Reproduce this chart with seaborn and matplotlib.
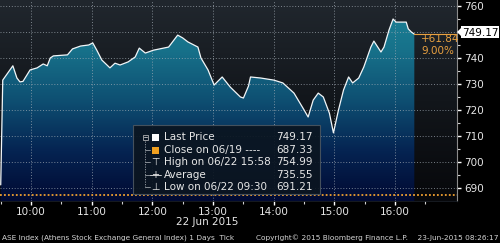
import numpy as np
import pandas as pd
import matplotlib
matplotlib.use("Agg")
import matplotlib.pyplot as plt
import seaborn as sns
from matplotlib.colors import LinearSegmentedColormap
from matplotlib.patches import Rectangle, Polygon
from matplotlib.lines import Line2D

# ---------------- data ----------------
times = ["09:30", "09:32", "09:42", "09:46", "09:49", "09:52", "09:56", "09:59",
         "10:06", "10:12", "10:16", "10:19", "10:22", "10:36", "10:41", "10:49",
         "10:57", "11:01", "11:05", "11:10", "11:18", "11:23", "11:28", "11:36",
         "11:43", "11:47", "11:53", "12:01", "12:11", "12:16", "12:25", "12:30",
         "12:35", "12:45", "12:48", "12:55", "13:01", "13:09", "13:17", "13:27",
         "13:30", "13:35", "13:37", "13:47", "14:00", "14:09", "14:20", "14:30",
         "14:34", "14:39", "14:44", "14:49", "14:55", "14:59", "15:04", "15:09",
         "15:14", "15:18", "15:24", "15:29", "15:36", "15:39", "15:46", "15:49",
         "15:54", "15:58", "16:01", "16:03", "16:11", "16:13", "16:16", "16:19"]
prices = [691.2, 731.5, 737.0, 732.3, 730.8, 731.0, 733.5, 735.4,
          736.2, 737.7, 737.0, 740.0, 740.8, 741.2, 743.5, 744.6,
          745.0, 745.8, 743.0, 739.2, 736.2, 738.0, 737.3, 738.5,
          740.4, 743.8, 741.9, 743.0, 743.8, 744.2, 748.8, 747.7,
          746.2, 744.2, 740.0, 735.4, 729.6, 732.7, 728.8, 725.0,
          724.6, 729.2, 732.7, 732.3, 731.5, 730.4, 726.5, 720.0,
          717.3, 723.8, 726.5, 725.0, 718.8, 711.2, 720.0, 727.7,
          732.7, 730.4, 732.3, 736.5, 744.2, 746.5, 742.3, 744.2,
          750.8, 754.99, 753.8, 753.8, 753.8, 751.2, 750.0, 749.17]

close_prev = 687.33
last_price = 749.17
change_txt = "+61.84"
change_pct = "9.00%"
y_ticks = [690, 700, 710, 720, 730, 740, 750, 760]
y_labels = ["690", "700", "710", "720", "730", "740", "", "760"]
x_ticks = ["10:00", "11:00", "12:00", "13:00", "14:00", "15:00", "16:00"]
legend_labels = ["Last Price", "Close on 06/19 ----", "High on 06/22 15:58",
                 "Average", "Low on 06/22 09:30"]
legend_values = ["749.17", "687.33", "754.99", "735.55", "691.21"]
date_label = "22 Jun 2015"
footer_left = "ASE Index (Athens Stock Exchange General Index) 1 Days  Tick"
footer_right = "Copyright\u00a9 2015 Bloomberg Finance L.P.    23-Jun-2015 08:26:17"


def to_h(s):
    h, m = s.split(":")
    return int(h) + int(m) / 60.0


df = pd.DataFrame({"t": [to_h(t) for t in times], "p": prices})

# ---------------- figure ----------------
sns.set_theme(style="dark")
plt.rcParams["font.family"] = ["DejaVu Sans"]
W, H = 500, 243
fig = plt.figure(figsize=(W / 100, H / 100), dpi=100, facecolor="black")


def px(x, y):
    return (x / W, 1 - y / H)


ax = fig.add_axes([0, (H - 201) / H, 457 / W, 201 / H])
x0, x1 = 9.488, 17.02
y0, y1 = 685.0, 762.3
ax.set_xlim(x0, x1)
ax.set_ylim(y0, y1)
ax.set_facecolor("#101418")

# background gradient
bg = LinearSegmentedColormap.from_list("bg", ["#07080b", "#12161b", "#21272e"])
grad = np.linspace(0, 1, 256).reshape(-1, 1)
ax.imshow(grad, extent=[x0, x1, y0, y1], aspect="auto", cmap=bg,
          origin="lower", zorder=0, interpolation="bilinear")

# fill under line with gradient
fill_cmap = LinearSegmentedColormap.from_list(
    "fill", ["#010a33", "#052452", "#0e4f72", "#17718a", "#1d8498"])
poly = ax.fill_between(df["t"], df["p"], y0, color="none", lw=0, zorder=1)
im = ax.imshow(grad, extent=[x0, x1, y0, y1], aspect="auto", cmap=fill_cmap,
               origin="lower", zorder=1, interpolation="bilinear")
im.set_clip_path(poly.get_paths()[0], transform=ax.transData)

# grid
grid_kw = dict(color="#a4aeb7", lw=0.6, ls=(0, (1.2, 2.2)), alpha=0.8, zorder=2)
for v in y_ticks:
    ax.axhline(v, **grid_kw)
for t in x_ticks:
    ax.axvline(to_h(t), **grid_kw)

# close line (orange dotted)
ax.axhline(close_prev, color="#f0a030", lw=1.3, ls=(0, (1, 1.2)), zorder=3)

# price line
sns.lineplot(data=df, x="t", y="p", ax=ax, color="#f2f6f8", lw=0.9, zorder=4)
ax.plot([df["t"].iloc[-1], x1], [last_price, last_price], color="#e8a040",
        lw=0.8, zorder=4)

# axes formatting
ax.set_xlabel("")
ax.set_ylabel("")
ax.set_xticks([to_h(t) for t in x_ticks])
ax.set_xticklabels(x_ticks)
ax.set_xticks([to_h(t) + 0.5 for t in x_ticks] + [9.5], minor=True)
ax.set_yticks(y_ticks)
ax.set_yticklabels(y_labels)
ax.set_yticks([v + 5 for v in y_ticks[:-1]], minor=True)
ax.yaxis.tick_right()
ax.tick_params(axis="both", which="major", colors="white", labelcolor="#e6e6e6",
               labelsize=7.5, length=3, width=1.0, direction="out")
ax.tick_params(axis="both", which="minor", colors="#cfcfcf", length=2, width=0.8,
               direction="out")
ax.tick_params(axis="x", which="both", bottom=True, pad=1.5)
ax.tick_params(axis="y", which="both", right=True, left=False, pad=2)
for s in ["left", "top"]:
    ax.spines[s].set_visible(False)
ax.spines["right"].set_color("#8c8c8c")
ax.spines["right"].set_linewidth(0.8)
ax.spines["bottom"].set_color("#1a1f26")
ax.spines["bottom"].set_linewidth(0.6)
ax.grid(False)

# change annotation
fig.text(*px(421, 39), change_txt, color="#e8a040", fontsize=7.5, va="center", ha="left")
fig.text(*px(421, 51), change_pct, color="#e8a040", fontsize=7.5, va="center", ha="left")

# last price tag
fig.add_artist(Rectangle(px(461, 38), 38 / W, 12 / H, transform=fig.transFigure,
                         facecolor="white", edgecolor="none", zorder=5))
fig.add_artist(Polygon([px(457, 32), px(462, 27), px(462, 37)], closed=True,
                       transform=fig.transFigure, facecolor="white",
                       edgecolor="none", zorder=5))
fig.text(*px(480, 32.5), f"{last_price:.2f}", color="black", fontsize=7.5,
         ha="center", va="center", zorder=6)

# legend box
fig.add_artist(Rectangle(px(133, 194), 187 / W, 69 / H, transform=fig.transFigure,
                         facecolor="#0b1520", edgecolor="#4a5560", lw=0.8,
                         alpha=0.92, zorder=5))
rows = [137, 149.5, 162, 174.5, 187]
for i, (lab, val) in enumerate(zip(legend_labels, legend_values)):
    fig.text(*px(164, rows[i]), lab, color="#e8e8e8", fontsize=7.5,
             ha="left", va="center", zorder=6)
    fig.text(*px(313, rows[i]), val, color="#e8e8e8", fontsize=7.5,
             ha="right", va="center", zorder=6)
    if i > 0:
        fig.add_artist(Line2D([145 / W, 150 / W], [1 - rows[i] / H] * 2,
                              transform=fig.transFigure, color="#9aa0a6",
                              lw=0.6, zorder=6))
# tree vertical
fig.add_artist(Line2D([145 / W, 145 / W], [1 - 141 / H, 1 - 187 / H],
                      transform=fig.transFigure, color="#9aa0a6", lw=0.6,
                      ls=(0, (1.5, 1.5)), zorder=6))
# minus box
fig.add_artist(Rectangle(px(142.5, 139.5), 5 / W, 5 / H, transform=fig.transFigure,
                         facecolor="none", edgecolor="#b0b0b0", lw=0.6, zorder=6))
fig.add_artist(Line2D([143.5 / W, 146.5 / W], [1 - 137 / H] * 2,
                      transform=fig.transFigure, color="#d0d0d0", lw=0.6, zorder=6))
# squares
fig.add_artist(Rectangle(px(152, 141), 7 / W, 7 / H, transform=fig.transFigure,
                         facecolor="white", edgecolor="none", zorder=6))
fig.add_artist(Rectangle(px(152, 153.5), 7 / W, 7 / H, transform=fig.transFigure,
                         facecolor="#f0a020", edgecolor="none", zorder=6))
fig.text(*px(155.5, 162), "\u22a4", color="#e8e8e8", fontsize=7, ha="center",
         va="center", zorder=6)
fig.text(*px(155.5, 174.5), "+", color="#e8e8e8", fontsize=7, ha="center",
         va="center", zorder=6)
fig.add_artist(Line2D([150 / W, 161 / W], [1 - 174.5 / H] * 2,
                      transform=fig.transFigure, color="#e8e8e8", lw=0.6, zorder=6))
fig.text(*px(155.5, 187), "\u22a5", color="#e8e8e8", fontsize=7, ha="center",
         va="center", zorder=6)

# date and footer
fig.text(*px(207, 222), date_label, color="#e6e6e6", fontsize=7.5,
         ha="center", va="center")
fig.text(*px(2, 238), footer_left, color="#d4d4d4", fontsize=5.3,
         ha="left", va="center")
fig.text(*px(498, 238), footer_right, color="#d4d4d4", fontsize=5.3,
         ha="right", va="center")

fig.savefig("out.png", dpi=100, facecolor="black")
